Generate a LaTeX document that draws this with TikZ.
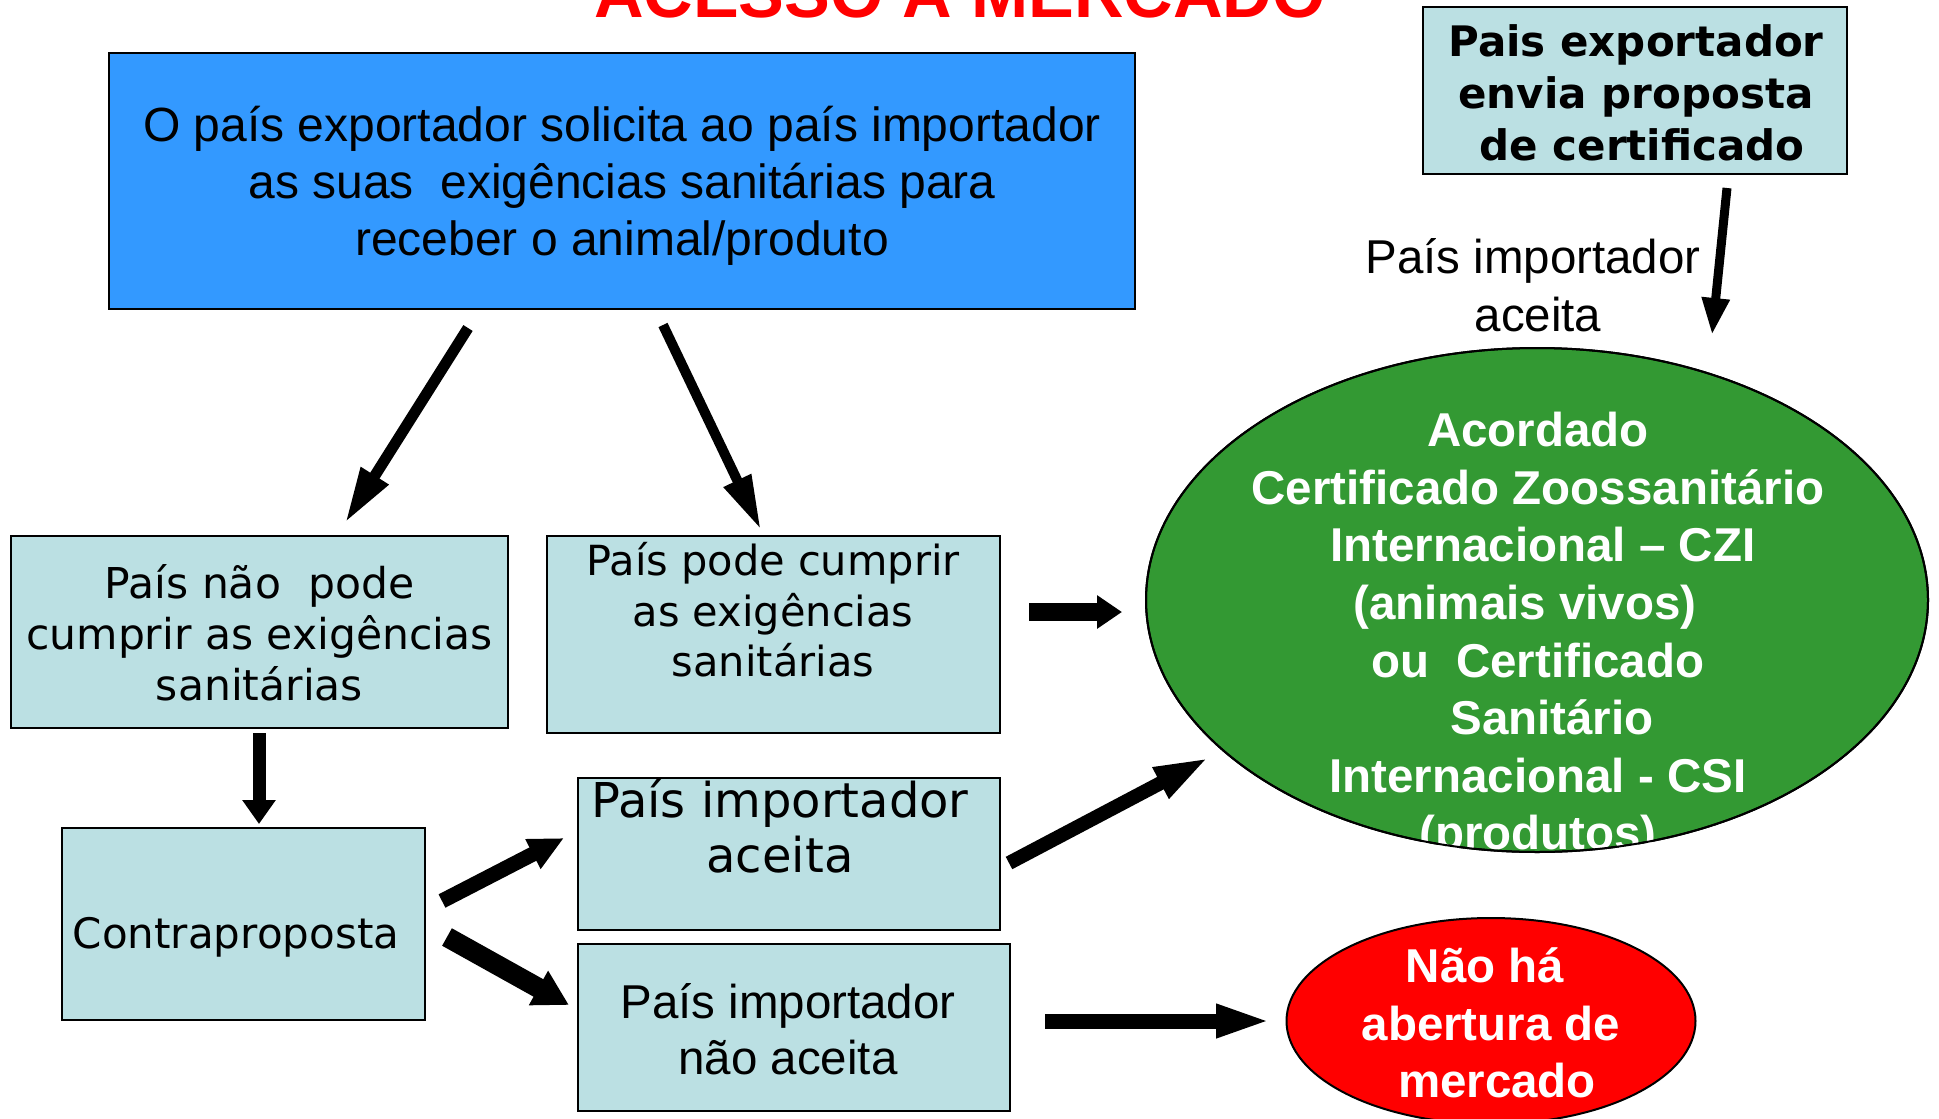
\documentclass[tikz,border=0pt]{standalone}
\usepackage{fontspec}
\setmainfont{Liberation Sans}
\newfontfamily\tah{DejaVu Sans}
\usetikzlibrary{arrows.meta,shapes.geometric}
\definecolor{boxfill}{RGB}{187,224,227}
\definecolor{bluefill}{RGB}{51,153,255}
\definecolor{greenfill}{RGB}{51,153,51}
\definecolor{redfill}{RGB}{255,0,0}
\begin{document}
\begin{tikzpicture}[x=1pt,y=-1pt,
  box/.style={draw=black, line width=2pt, fill=boxfill, rectangle, inner sep=0pt},
  txt/.style={inner sep=0pt, align=center},
  oval/.style={ellipse, draw=black, line width=2pt, inner sep=0pt},
  fatarrow/.style n args={3}{line width=#1, -{Triangle[length=#2,width=#3]}}]
\useasboundingbox (0,0) rectangle (1939,1119);
\fill[white] (0,0) rectangle (1939,1119);

\node[anchor=base, inner sep=0pt, text=redfill, font=\bfseries\fontsize{68.6}{80}\selectfont] (title) at (960,17) {ACESSO A MERCADO};

% top blue box
\node[box, fill=bluefill, minimum width=1026pt, minimum height=256pt] (blue) at (622,181) {};
\node[txt, font=\fontsize{48}{57}\selectfont] (bluetxt) at (622,186) {O país exportador solicita ao país importador\\as suas\ \ exigências sanitárias para\\receber o animal/produto};

% top right box
\node[box, minimum width=424pt, minimum height=167pt] (prop) at (1635,90.5) {};
\node[txt, font=\tah\bfseries\fontsize{42}{52}\selectfont] (proptxt) at (1636,93) {Pais exportador\\envia proposta\\\hspace*{12pt}de certificado};

\node[txt, font=\fontsize{47.5}{58}\selectfont] (lbl) at (1533,285) {País importador\\\hspace*{10pt}aceita};

% green ellipse
\node[oval, fill=greenfill, minimum width=782pt, minimum height=504pt] (acc) at (1537,600) {};
\node[txt, text=white, font=\bfseries\fontsize{47.5}{57.6}\selectfont] (acctxt) at (1538,636) {Acordado\\Certificado Zoossanitário\\\hspace*{10pt}Internacional – CZI\\(animais vivos)\hspace*{26pt}\mbox{}\\ou\ \ Certificado\\\hspace*{28pt}Sanitário\\Internacional - CSI\\(produtos)};
\draw[line width=2pt] (acc.center) ellipse [x radius=391pt, y radius=252pt];

% red ellipse
\node[oval, fill=redfill, minimum width=409pt, minimum height=206pt] (nao) at (1491,1021) {};
\node[txt, text=white, font=\bfseries\fontsize{47.5}{57.6}\selectfont] (naotxt) at (1491,1023) {Não há\hspace*{12pt}\mbox{}\\abertura de\\\hspace*{12pt}mercado};

% light boxes
\node[box, minimum width=497pt, minimum height=192pt] (nopode) at (259.5,632) {};
\node[txt, font=\tah\fontsize{42.5}{51}\selectfont] (nopodetxt) at (259.5,633) {País não\ \ pode\\cumprir as exigências\\sanitárias};

\node[box, minimum width=453pt, minimum height=197pt] (pode) at (773.5,634.5) {};
\node[txt, font=\tah\fontsize{41.5}{50.5}\selectfont] (podetxt) at (773,610) {País pode cumprir\\as exigências\\sanitárias};

\node[box, minimum width=363pt, minimum height=192pt] (contra) at (243.5,924) {};
\node[txt, font=\tah\fontsize{42}{50}\selectfont] (contratxt) at (236,937.5) {Contraproposta};

\node[box, minimum width=422pt, minimum height=152pt] (aceita) at (789,854) {};
\node[txt, font=\tah\fontsize{48}{55}\selectfont] (aceitatxt) at (780,826) {País importador\\aceita};

\node[box, minimum width=432pt, minimum height=167pt] (naoaceita) at (794,1027.5) {};
\node[txt, font=\fontsize{47.5}{56}\selectfont] (naoaceitatxt) at (788,1029) {País importador\\não aceita};

% arrow end points
\coordinate (a1s) at (468,328);  \coordinate (a1e) at (345,523);
\coordinate (a2s) at (663,325);  \coordinate (a2e) at (761,530);
\coordinate (a3s) at (259,733);  \coordinate (a3e) at (259,824);
\coordinate (a4s) at (1029,612); \coordinate (a4e) at (1122,612);
\coordinate (a5s) at (442,901);  \coordinate (a5e) at (564,838);
\coordinate (a6s) at (447,937);  \coordinate (a6e) at (569,1005);
\coordinate (a7s) at (1009,863); \coordinate (a7e) at (1210,757);
\coordinate (a8s) at (1045,1021);\coordinate (a8e) at (1272,1021);
\coordinate (a9s) at (1727,188); \coordinate (a9e) at (1712,335);

\draw[fatarrow={11pt}{56pt}{30pt}] (a1s) -- (a1e);
\draw[fatarrow={10pt}{55pt}{28pt}] (a2s) -- (a2e);
\draw[fatarrow={13pt}{24pt}{32pt}] (a3s) -- (a3e);
\draw[fatarrow={18pt}{25pt}{32pt}] (a4s) -- (a4e);
\draw[fatarrow={15pt}{35pt}{31pt}] (a5s) -- (a5e);
\draw[fatarrow={20pt}{35pt}{37pt}] (a6s) -- (a6e);
\draw[fatarrow={14pt}{56pt}{31pt}] (a7s) -- (a7e);
\draw[fatarrow={15pt}{56pt}{30pt}] (a8s) -- (a8e);
\draw[fatarrow={9pt}{37pt}{26pt}] (a9s) -- (a9e);
\end{tikzpicture}
\end{document}
